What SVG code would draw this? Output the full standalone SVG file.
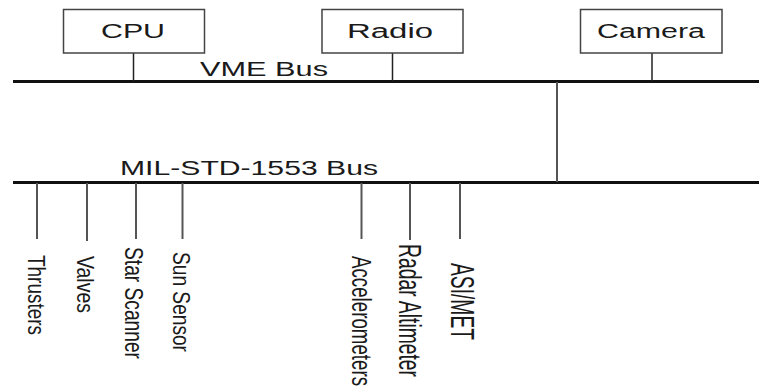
<svg xmlns="http://www.w3.org/2000/svg" width="759" height="387" viewBox="0 0 759 387">
<style>
.box{fill:#fff;stroke:#444;stroke-width:1.5}
.bus{stroke:#111;stroke-width:3;fill:none}
.stem{stroke:#222;stroke-width:1.5;fill:none}
.tick{stroke:#555;stroke-width:2;fill:none}
.t{font-family:"Liberation Sans",Arial,sans-serif;fill:#1a1a1a}
.h{font-size:19.5px;text-anchor:middle}
.r{text-anchor:start;font-size:19px}
</style>
<rect width="759" height="387" fill="#fff"/>
<g id="connectors">
<line class="bus" x1="13" y1="81.5" x2="759" y2="81.5"/>
<line class="bus" x1="13" y1="182.5" x2="759" y2="182.5"/>
<line class="stem" x1="133.5" y1="53" x2="133.5" y2="81"/>
<line class="stem" x1="392.5" y1="53" x2="392.5" y2="81"/>
<line class="stem" x1="652" y1="53" x2="652" y2="81"/>
<line class="tick" x1="557" y1="82" x2="557" y2="182"/>
<line class="tick" x1="37" y1="183" x2="37" y2="239"/>
<line class="tick" x1="87" y1="183" x2="87" y2="241"/>
<line class="tick" x1="136" y1="183" x2="136" y2="239"/>
<line class="tick" x1="182.5" y1="183" x2="182.5" y2="239"/>
<line class="tick" x1="361.5" y1="183" x2="361.5" y2="239"/>
<line class="tick" x1="410" y1="183" x2="410" y2="240"/>
<line class="tick" x1="460" y1="183" x2="460" y2="239"/>
</g>
<g id="cpu">
<rect class="box" x="63.5" y="9.5" width="141" height="43.5"/>
<text class="t h" x="133" y="37.5" textLength="64" lengthAdjust="spacingAndGlyphs">CPU</text>
</g>
<g id="radio">
<rect class="box" x="322" y="9.5" width="141" height="43.5"/>
<text class="t h" x="390" y="37.5" textLength="86" lengthAdjust="spacingAndGlyphs">Radio</text>
</g>
<g id="camera">
<rect class="box" x="580.5" y="9.5" width="141.5" height="43.5"/>
<text class="t h" x="651" y="37.5" textLength="108" lengthAdjust="spacingAndGlyphs">Camera</text>
</g>
<g id="vme-bus">
<text class="t h" x="264" y="76" textLength="128" lengthAdjust="spacingAndGlyphs">VME Bus</text>
</g>
<g id="mil-bus">
<text class="t h" x="249" y="175" textLength="258" lengthAdjust="spacingAndGlyphs">MIL-STD-1553 Bus</text>
</g>
<g id="thrusters">
<text class="t r" transform="translate(27.5,255) rotate(90) scale(1,1.24)" textLength="80" lengthAdjust="spacingAndGlyphs">Thrusters</text>
</g>
<g id="valves">
<text class="t r" transform="translate(76.5,256) rotate(90) scale(1,1.27)" textLength="57" lengthAdjust="spacingAndGlyphs">Valves</text>
</g>
<g id="star-scanner">
<text class="t r" transform="translate(124.5,247) rotate(90) scale(1,1.36)" textLength="112" lengthAdjust="spacingAndGlyphs">Star Scanner</text>
</g>
<g id="sun-sensor">
<text class="t r" transform="translate(172.5,252) rotate(90) scale(1,1.27)" textLength="100" lengthAdjust="spacingAndGlyphs">Sun Sensor</text>
</g>
<g id="accelerometers">
<text class="t r" transform="translate(352,256) rotate(90) scale(1,1.5)" textLength="130" lengthAdjust="spacingAndGlyphs">Accelerometers</text>
</g>
<g id="radar-altimeter">
<text class="t r" transform="translate(399,244) rotate(90) scale(1,1.68)" textLength="133" lengthAdjust="spacingAndGlyphs">Radar Altimeter</text>
</g>
<g id="asi-met">
<text class="t r" transform="translate(450.5,263) rotate(90) scale(1,1.75)" textLength="77" lengthAdjust="spacingAndGlyphs">ASI/MET</text>
</g>
</svg>
